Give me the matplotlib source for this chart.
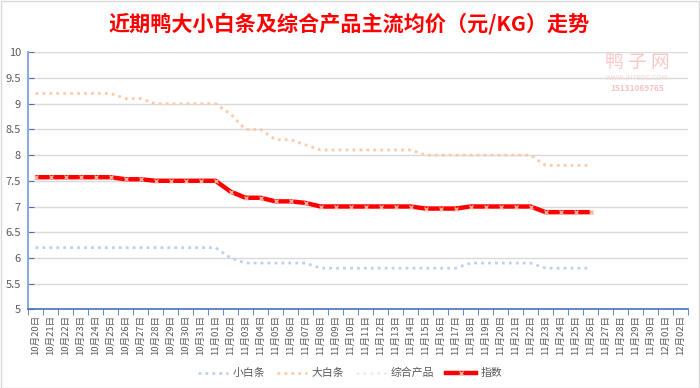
import matplotlib
matplotlib.use("Agg")
import matplotlib.pyplot as plt
from matplotlib.lines import Line2D
from matplotlib.patches import Rectangle

plt.rcParams['font.family'] = ['Noto Sans CJK SC', 'DejaVu Sans']

# ---- data ----
dates = (["10月%02d日" % d for d in range(20, 32)] +
         ["11月%02d日" % d for d in range(1, 31)] +
         ["12月%02d日" % d for d in range(1, 3)])

small = [6.2]*13 + [6.0] + [5.9]*5 + [5.8]*10 + [5.9]*5 + [5.8]*4
big = [9.2]*6 + [9.1]*2 + [9.0]*5 + [8.8] + [8.5]*2 + [8.3]*2 + [8.2] + [8.1]*7 + [8.0]*8 + [7.8]*4
index_vals = ([7.57]*6 + [7.53]*2 + [7.50]*5 + [7.29] + [7.17]*2 + [7.10]*2 + [7.07] +
              [7.00]*7 + [6.96]*3 + [7.00]*5 + [6.89]*4)
combo = list(index_vals)

yticks = [5, 5.5, 6, 6.5, 7, 7.5, 8, 8.5, 9, 9.5, 10]
ytick_labels = ["5", "5.5", "6", "6.5", "7", "7.5", "8", "8.5", "9", "9.5", "10"]

title = "近期鸭大小白条及综合产品主流均价（元/KG）走势"
series_names = ["小白条", "大白条", "综合产品", "指数"]

# ---- figure ----
fig = plt.figure(figsize=(7.0, 3.88), dpi=100)
ax = fig.add_axes([0.040, 0.2028, 0.943, 0.6624])

c_small = "#BDD0EE"
c_big = "#F8CBAD"
c_combo = "#EDEDED"
c_idx = "#FF0000"
txt = "#595959"
dot = (0, (1, 1.5))

x_small = list(range(len(small)))
x_big = list(range(len(big)))
x_idx = list(range(len(index_vals)))

ax.plot(x_small, small, color=c_small, lw=2, linestyle=dot, dash_capstyle='butt', zorder=3)
ax.plot(x_big, big, color=c_big, lw=2, linestyle=dot, dash_capstyle='butt', zorder=3)
ax.plot(list(range(len(combo))), combo, color=c_combo, lw=2, linestyle=dot, dash_capstyle='butt', zorder=3)
ax.plot(x_idx, index_vals, color=c_idx, lw=3.2, zorder=4, solid_capstyle='butt',
        marker='x', markersize=3.4, markeredgecolor="#F6B0A0", markeredgewidth=1.0)

ax.set_xlim(-0.5, len(dates) - 0.5)
ax.set_ylim(5, 10)
ax.set_yticks(yticks)
ax.set_yticklabels(ytick_labels)
ax.set_xticks(range(len(dates)))
ax.set_xticklabels(dates, rotation=90)
ax.set_xticks([i + 0.5 for i in range(-1, len(dates))], minor=True)

ax.grid(axis='y', color="#D9D9D9", lw=1)
ax.set_axisbelow(True)
for s in ['top', 'right']:
    ax.spines[s].set_visible(False)
ax.spines['left'].set_color("#8EA9DB")
ax.spines['left'].set_linewidth(1.5)
ax.spines['bottom'].set_color("#4472C4")
ax.spines['bottom'].set_linewidth(1.2)

ax.tick_params(axis='y', direction='in', length=4, color="#4472C4", labelsize=8, labelcolor=txt, pad=5)
ax.tick_params(axis='x', which='major', length=0, labelsize=6.8, labelcolor=txt, pad=4)
ax.tick_params(axis='x', which='minor', direction='out', length=4, color="#4472C4")

# title
fig.text(0.499, 0.940, title, ha='center', va='center', color="#FF0000",
         fontsize=15.2, fontweight='bold')

# watermark
fig.text(0.910, 0.838, "鸭 子 网", ha='center', va='center', color="#F8C8C8", fontsize=13.5, zorder=0)
fig.text(0.910, 0.798, "WWW.INTEDC.COM", ha='center', va='center', color="#F3D6D6", fontsize=5, zorder=0)
fig.text(0.910, 0.772, "15131069765", ha='center', va='center', color="#F5C4C4", fontsize=6,
         fontweight='bold', zorder=0)

# legend
handles = [
    Line2D([0], [0], color=c_small, lw=2, linestyle=dot, dash_capstyle='butt'),
    Line2D([0], [0], color=c_big, lw=2, linestyle=dot, dash_capstyle='butt'),
    Line2D([0], [0], color=c_combo, lw=2, linestyle=dot, dash_capstyle='butt'),
    Line2D([0], [0], color=c_idx, lw=3.2, marker='x', markersize=3.4,
           markeredgecolor="#F6B0A0", markeredgewidth=1.0),
]
leg = fig.legend(handles, series_names, loc='center', bbox_to_anchor=(0.50, 0.038), ncol=4,
                 frameon=False, fontsize=7.8, handlelength=2.8, columnspacing=1.1,
                 handletextpad=0.4)
for t in leg.get_texts():
    t.set_color(txt)

# border
fig.patches.append(Rectangle((0.001, 0.001), 0.998, 0.997, transform=fig.transFigure,
                             fill=False, edgecolor="#D9D9D9", lw=1))

fig.savefig("out.png", dpi=100)
